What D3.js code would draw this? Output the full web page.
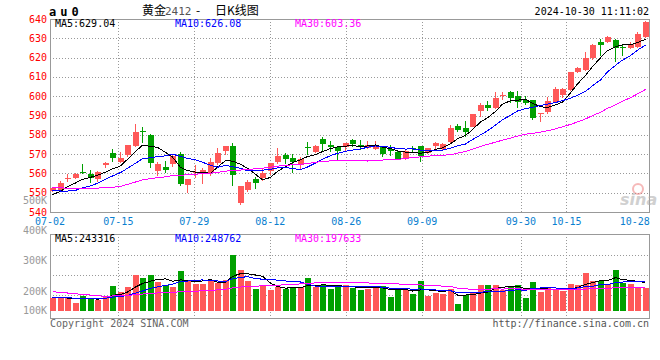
<!DOCTYPE html>
<html><head><meta charset="utf-8">
<script src="https://cdn.jsdelivr.net/npm/d3@7/dist/d3.min.js"></script>
<style>html,body{margin:0;padding:0;background:#fff;} svg{display:block;}</style>
</head><body><svg id="c" width="660" height="360"></svg>
<script>
// ---------- data ----------
const dates = ["07-02","07-03","07-04","07-05","07-08","07-09","07-10","07-11","07-12","07-15",
"07-16","07-17","07-18","07-19","07-22","07-23","07-24","07-25","07-26","07-29",
"07-30","07-31","08-01","08-02","08-05","08-06","08-07","08-08","08-09","08-12",
"08-13","08-14","08-15","08-16","08-19","08-20","08-21","08-22","08-23","08-26",
"08-27","08-28","08-29","08-30","09-02","09-03","09-04","09-05","09-06","09-09",
"09-10","09-11","09-12","09-13","09-18","09-19","09-20","09-23","09-24","09-25",
"09-26","09-27","09-30","10-08","10-09","10-10","10-11","10-14","10-15","10-16",
"10-17","10-18","10-21","10-22","10-23","10-24","10-25","10-28","10-29","10-30"];
const open = [551.0,551.4,557.3,557.8,560.9,559.7,557.3,564.2,570.4,565.7,
569.5,574.2,582.0,580.0,561.4,563.5,564.7,570.0,554.0,560.0,
560.7,560.0,565.2,571.8,574.4,544.8,551.4,557.1,557.5,561.4,
566.1,569.5,567.8,564.4,573.8,571.1,577.8,574.7,573.5,573.5,
577.3,574.7,573.3,572.5,573.8,572.5,571.2,567.8,573.2,574.2,
570.7,574.2,572.6,576.1,584.6,583.4,584.2,592.5,595.4,594.0,
600.1,602.3,600.1,598.0,598.0,590.9,592.0,596.8,600.6,603.2,
612.7,613.6,619.6,627.9,627.9,629.1,625.6,624.8,625.3,630.8];
const high = [553.0,556.0,559.5,560.0,565.0,561.8,561.0,566.0,572.6,571.2,
574.8,585.6,584.2,580.5,566.0,566.4,569.5,571.2,557.3,564.4,
562.6,567.8,573.3,574.2,575.6,553.7,556.6,558.3,562.6,565.3,
573.0,570.4,569.9,568.3,576.1,574.7,579.0,577.0,574.2,575.9,
577.7,577.3,577.0,577.0,574.2,574.7,571.8,572.1,574.2,574.3,
573.2,576.4,575.6,585.1,585.6,587.3,591.0,596.6,597.5,602.3,
602.3,602.9,602.9,600.3,598.2,591.5,599.8,604.9,604.4,612.7,
615.3,623.0,626.9,629.6,631.4,629.6,626.9,628.2,633.1,639.0];
const low = [550.5,551.0,555.7,557.2,559.5,554.9,555.5,562.6,566.0,565.2,
568.7,573.5,575.6,563.0,558.8,560.0,563.5,553.5,550.0,557.5,
554.5,558.7,564.4,569.5,553.5,543.6,550.5,551.8,556.2,559.2,
564.9,564.9,560.4,562.3,569.5,570.4,571.2,571.2,567.0,571.8,
573.5,572.1,572.6,572.1,568.7,569.0,567.0,567.0,570.7,566.1,
570.0,571.8,572.1,575.2,581.6,579.0,583.8,589.4,592.5,593.2,
598.0,596.3,593.7,595.4,587.7,586.5,590.6,596.5,599.2,602.7,
611.9,613.1,618.8,621.0,627.6,617.9,621.0,624.5,624.8,630.0];
const close = [552.3,555.2,557.7,559.5,560.0,557.5,560.7,565.5,567.8,567.8,
574.7,581.3,581.2,565.2,564.9,561.8,569.2,554.5,557.1,560.7,
561.8,566.1,570.7,574.0,559.2,553.5,555.7,555.2,560.0,565.2,
569.2,567.5,565.9,567.5,573.5,574.4,575.2,573.7,571.8,575.6,
575.4,573.5,574.7,574.5,570.0,571.6,567.5,571.6,572.8,569.0,
573.0,575.9,575.2,583.4,582.5,581.3,590.8,595.4,594.0,598.9,
600.5,599.2,597.2,596.3,588.5,591.3,597.5,603.7,603.7,612.4,
614.5,619.6,626.5,626.5,630.5,624.8,624.8,626.9,632.2,638.6];
const volume = [104000,104000,104000,67000,124000,104000,90000,124000,207000,160000,
202000,300000,275000,300000,244000,216000,202000,334000,258000,227000,
227000,258000,230000,258000,468000,342000,250000,182000,207000,177000,
202000,180000,202000,202000,275000,196000,213000,182000,202000,216000,
194000,174000,180000,207000,207000,118000,188000,174000,140000,250000,
126000,152000,140000,182000,56000,129000,157000,216000,216000,216000,
174000,207000,216000,110000,241000,157000,191000,180000,166000,224000,
216000,320000,250000,250000,227000,342000,233000,227000,199000,188000];
// sessions before 07-02 (off the chart), estimated from where the MA lines start
const priorCloses = [562,565,563,558,556,558,560,562,552,545,544,546,549,548,550,548.3,
549,552,551,551.7,559.7,558,556,547.1,547.5,546.7,545.2,550.3,550.5];
const priorVolumes = [285000,262000,278000,255000,270000,268000,269000,120000,112000,118000,110000,114000,
135000,142000,138000,140000,141000,170000,178000,175000,118000,112000,120000,110000,115000,
108000,112000,109000,112000];
const priceTicks = [540,550,560,570,580,590,600,610,620,630,640];
const volTicks = [100000,200000,300000,400000,500000];
const volTickText = ["100K","200K","300K","400K","500K"];
const dateTicks = ["07-02","07-15","07-29","08-12","08-26","09-09","09-30","10-15","10-28"];
const gridDates = ["07-15","07-29","08-12","08-26","09-09","09-30","10-15"];
const maPeriods = [5,10,30];
const maColors = ["#000000","#0000ff","#ff00ff"];
const maPriceText = ["MA5:629.04","MA10:626.08","MA30:603.36"];
const maVolText = ["MA5:243316","MA10:248762","MA30:197633"];

// ---------- layout ----------
const svg = d3.select("#c");
const L = 50, R = 650;
const P = {top:19, bottom:212};
const V = {top:234, bottom:318};
const mono = "'DejaVu Sans Mono', monospace";
const RED = "#ff5858", GREEN = "#00a000";

const x = d3.scaleBand().domain(dates).range([L, R]);
const xGrid = d3.scaleLinear().domain([0, dates.length - 1]).range([L, R]);
const y = d3.scaleLinear().domain([540, 640]).range([P.bottom, P.top]);
const yv = d3.scaleLinear().domain([0, 500000]).range([310.7, 251.2]);
const yvLabel = d3.scaleLinear().domain([200000, 500000]).range([291, 200.3]);
const yvGrid = d3.scaleLinear().domain([0, 4]).range([315, 235]);

function movingAvg(vals, prior, n) {
  const all = prior.concat(vals), off = prior.length;
  return vals.map((v, i) => d3.mean(all.slice(off + i - n + 1, off + i + 1)));
}
const cx = d => Math.round(x(d)) + 3;

// ---------- price panel ----------
const gp = svg.append("g");
gp.selectAll("line.h").data(priceTicks).join("line")
  .attr("x1", L).attr("x2", R).attr("y1", d => Math.round(y(d)) + 0.5).attr("y2", d => Math.round(y(d)) + 0.5)
  .attr("stroke", "#999").attr("stroke-dasharray", "1,2").attr("shape-rendering", "crispEdges");
gp.selectAll("line.v").data(gridDates).join("line")
  .attr("x1", d => Math.round(xGrid(dates.indexOf(d))) + 0.5).attr("x2", d => Math.round(xGrid(dates.indexOf(d))) + 0.5)
  .attr("y1", P.top).attr("y2", P.bottom)
  .attr("stroke", "#999").attr("stroke-dasharray", "1,2").attr("shape-rendering", "crispEdges");
gp.append("rect").attr("x", L + 0.5).attr("y", P.top + 0.5).attr("width", R - L - 1).attr("height", P.bottom - P.top)
  .attr("fill", "none").attr("stroke", "#999").attr("shape-rendering", "crispEdges");

// watermark
const wm = svg.append("g").attr("opacity", 0.55);
wm.append("circle").attr("cx", 638).attr("cy", 189).attr("r", 5).attr("fill", "none").attr("stroke", "#f08080").attr("stroke-width", 2);
wm.append("text").attr("x", 620).attr("y", 205).text("sina")
  .attr("font-family", "'DejaVu Sans', sans-serif").attr("font-style", "italic").attr("font-weight", "bold")
  .attr("font-size", 16).attr("fill", "#aaa");

// candles
const candles = dates.map((d, i) => ({d, o: open[i], h: high[i], l: low[i], c: close[i]}));
const gc = gp.append("g").attr("shape-rendering", "crispEdges");
gc.selectAll("line").data(candles).join("line")
  .attr("x1", d => cx(d.d) - 0.5).attr("x2", d => cx(d.d) - 0.5)
  .attr("y1", d => Math.round(y(d.h))).attr("y2", d => Math.round(y(d.l)))
  .attr("stroke", d => d.c >= d.o ? RED : GREEN);
gc.selectAll("rect").data(candles).join("rect")
  .attr("x", d => Math.round(x(d.d))).attr("width", 6)
  .attr("y", d => Math.round(y(Math.max(d.o, d.c))))
  .attr("height", d => Math.max(1, Math.round(y(Math.min(d.o, d.c))) - Math.round(y(Math.max(d.o, d.c)))))
  .attr("fill", d => d.c >= d.o ? RED : GREEN);

// price MAs
maPeriods.forEach((n, k) => {
  const m = movingAvg(close, priorCloses, n);
  gp.append("path").datum(m)
    .attr("d", d3.line().x((v, i) => cx(dates[i]) - 0.5).y(v => y(v)))
    .attr("fill", "none").attr("stroke", maColors[k]).attr("stroke-width", 1).attr("shape-rendering", "crispEdges");
});

// price axis labels
svg.append("g").selectAll("text").data(priceTicks).join("text")
  .attr("x", 47).attr("y", d => y(d) + 3.5).attr("text-anchor", "end")
  .attr("font-family", mono).attr("font-size", 10).attr("fill", "#ff0000").text(d => d);

// MA header texts (price)
const hx = [55, 175, 295];
svg.append("g").selectAll("text").data(maPriceText).join("text")
  .attr("x", (d, i) => hx[i]).attr("y", 27).attr("font-family", mono).attr("font-size", 10)
  .attr("fill", (d, i) => maColors[i]).text(d => d);

// date labels
svg.append("g").selectAll("text").data(dateTicks).join("text")
  .attr("x", d => xGrid(dates.indexOf(d))).attr("y", 225).attr("text-anchor", "middle")
  .attr("font-family", mono).attr("font-size", 10).attr("fill", "#0a7fd0").text(d => d);

// ---------- volume panel ----------
const gv = svg.append("g");
gv.selectAll("line.h").data([1, 2, 3]).join("line")
  .attr("x1", L).attr("x2", R).attr("y1", d => Math.round(yvGrid(d)) + 0.5).attr("y2", d => Math.round(yvGrid(d)) + 0.5)
  .attr("stroke", "#999").attr("stroke-dasharray", "1,2").attr("shape-rendering", "crispEdges");
gv.selectAll("line.v").data(gridDates).join("line")
  .attr("x1", d => Math.round(xGrid(dates.indexOf(d))) + 0.5).attr("x2", d => Math.round(xGrid(dates.indexOf(d))) + 0.5)
  .attr("y1", V.top).attr("y2", V.bottom)
  .attr("stroke", "#999").attr("stroke-dasharray", "1,2").attr("shape-rendering", "crispEdges");
gv.append("rect").attr("x", L + 0.5).attr("y", V.top + 0.5).attr("width", R - L - 1).attr("height", V.bottom - V.top)
  .attr("fill", "none").attr("stroke", "#999").attr("shape-rendering", "crispEdges");

gv.append("g").attr("shape-rendering", "crispEdges").selectAll("rect").data(dates).join("rect")
  .attr("x", d => Math.round(x(d))).attr("width", 6)
  .attr("y", (d, i) => Math.round(yv(volume[i])))
  .attr("height", (d, i) => Math.round(yv(0)) - Math.round(yv(volume[i])))
  .attr("fill", (d, i) => close[i] >= open[i] ? RED : GREEN);

maPeriods.forEach((n, k) => {
  const m = movingAvg(volume, priorVolumes, n);
  gv.append("path").datum(m)
    .attr("d", d3.line().x((v, i) => cx(dates[i]) - 0.5).y(v => yv(v)))
    .attr("fill", "none").attr("stroke", maColors[k]).attr("stroke-width", 1).attr("shape-rendering", "crispEdges");
});

svg.append("g").selectAll("text").data(volTicks).join("text")
  .attr("x", 47).attr("y", d => Math.min(yvLabel(d), 310) + 3.5).attr("text-anchor", "end")
  .attr("font-family", mono).attr("font-size", 10).attr("fill", "#999").text((d, i) => volTickText[i]);

svg.append("g").selectAll("text").data(maVolText).join("text")
  .attr("x", (d, i) => hx[i]).attr("y", 241.5).attr("font-family", mono).attr("font-size", 10)
  .attr("fill", (d, i) => maColors[i]).text(d => d);

// ---------- titles / footers ----------
svg.append("text").attr("x", 49).attr("y", 16).attr("font-family", mono).attr("font-size", 12)
  .attr("font-weight", "bold").attr("letter-spacing", 4).attr("fill", "#000").text("au0");
const t = svg.append("text").attr("y", 15).attr("font-family", "'Noto Sans CJK SC', sans-serif").attr("font-size", 12).attr("fill", "#000");
t.append("tspan").attr("x", 142).text("黄金");
t.append("tspan").attr("x", 165).attr("fill", "#555").attr("font-family", mono).attr("font-size", 11).text("2412");
t.append("tspan").attr("x", 196).text("-");
t.append("tspan").attr("x", 215).text("日K线图");
svg.append("text").attr("x", 649).attr("y", 15).attr("text-anchor", "end").attr("font-family", mono)
  .attr("font-size", 10).attr("fill", "#000").text("2024-10-30 11:11:02");
svg.append("text").attr("x", 50).attr("y", 326.5).attr("font-family", mono).attr("font-size", 10)
  .attr("fill", "#666").text("Copyright 2024 SINA.COM");
svg.append("text").attr("x", 649).attr("y", 326.5).attr("text-anchor", "end").attr("font-family", mono)
  .attr("font-size", 10).attr("fill", "#555").text("http://finance.sina.com.cn");
</script></body></html>
